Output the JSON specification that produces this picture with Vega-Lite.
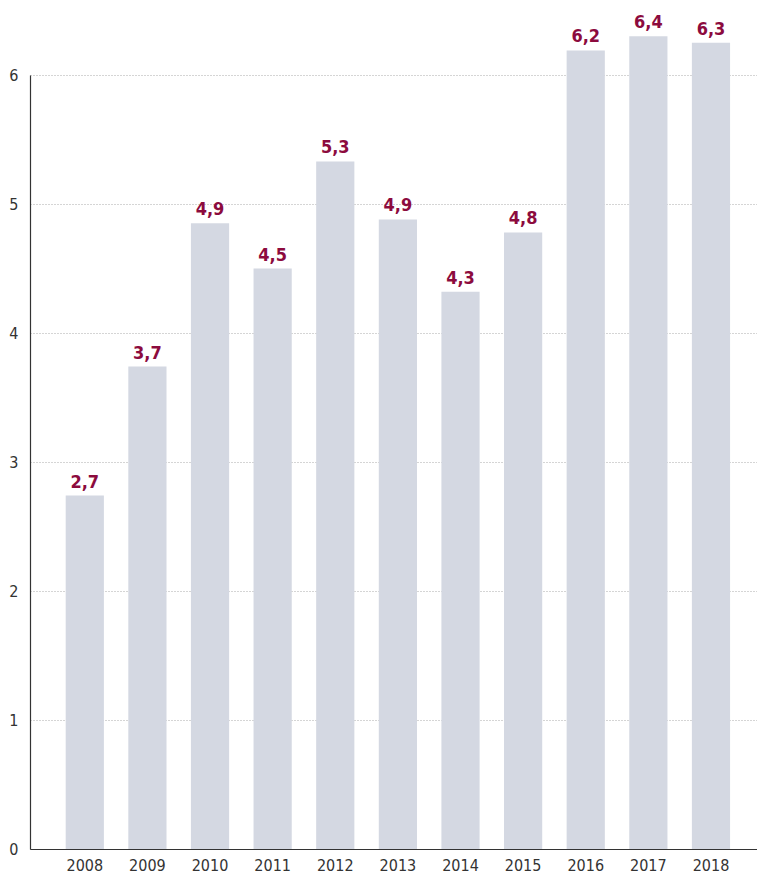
{
  "$schema": "https://vega.github.io/schema/vega-lite/v6.json",
  "autosize": {"type": "none"},
  "padding": {"left": 30, "top": 75, "right": 0, "bottom": 26},
  "width": 727,
  "height": 774,
  "background": "white",
  "config": {"view": {"stroke": null}},
  "data": {
    "values": [
      {"year": "2008", "value": 2.74, "label": "2,7"},
      {"year": "2009", "value": 3.74, "label": "3,7"},
      {"year": "2010", "value": 4.85, "label": "4,9"},
      {"year": "2011", "value": 4.50, "label": "4,5"},
      {"year": "2012", "value": 5.33, "label": "5,3"},
      {"year": "2013", "value": 4.88, "label": "4,9"},
      {"year": "2014", "value": 4.32, "label": "4,3"},
      {"year": "2015", "value": 4.78, "label": "4,8"},
      {"year": "2016", "value": 6.19, "label": "6,2"},
      {"year": "2017", "value": 6.30, "label": "6,4"},
      {"year": "2018", "value": 6.25, "label": "6,3"}
    ]
  },
  "encoding": {
    "x": {
      "field": "year",
      "type": "nominal",
      "sort": null,
      "scale": {"paddingInner": 0.39, "paddingOuter": 0.5, "align": 0.57},
      "axis": {
        "title": null,
        "labelAngle": 0,
        "ticks": false,
        "domainColor": "#333333",
        "domainWidth": 1.2,
        "labelFont": "DejaVu Sans Condensed",
        "labelFontSize": 16,
        "labelColor": "#333333",
        "labelPadding": 8,
        "zindex": 0
      }
    },
    "y": {
      "field": "value",
      "type": "quantitative",
      "scale": {"domain": [0, 6], "nice": false},
      "axis": {
        "title": null,
        "values": [0, 1, 2, 3, 4, 5, 6],
        "ticks": false,
        "domainColor": "#333333",
        "domainWidth": 1.2,
        "gridColor": "#aaaaaa",
        "gridDash": [1, 2],
        "gridWidth": 1,
        "labelFont": "DejaVu Sans Condensed",
        "labelFontSize": 16,
        "labelColor": "#333333",
        "labelPadding": 12,
        "zindex": 0
      }
    }
  },
  "layer": [
    {
      "mark": {"type": "bar", "color": "#d4d8e2", "clip": false}
    },
    {
      "mark": {
        "type": "text",
        "baseline": "alphabetic",
        "dy": -8,
        "font": "DejaVu Sans Condensed",
        "fontWeight": "bold",
        "fontSize": 18,
        "color": "#8c0b3e"
      },
      "encoding": {"text": {"field": "label"}}
    }
  ]
}
